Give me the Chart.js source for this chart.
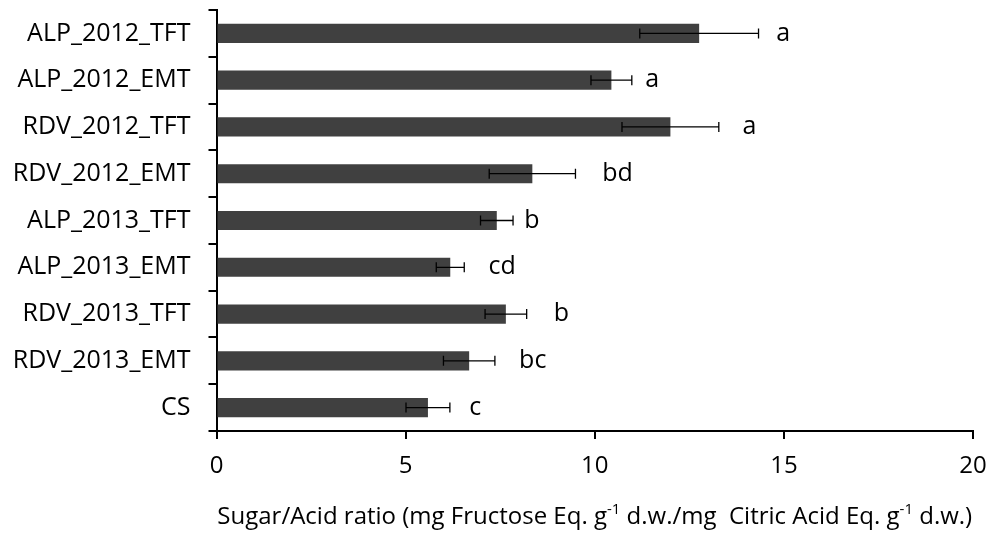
<!DOCTYPE html>
<html lang="en">
<head>
  <meta charset="UTF-8">
  <title>Sugar/Acid ratio</title>
  <script src="https://cdn.jsdelivr.net/npm/chart.js"></script>
  <style>
    html, body { margin: 0; padding: 0; background: #fff; }
    #wrap { width: 989px; height: 533px; }
  </style>
</head>
<body>
  <div id="wrap"><canvas id="ratioChart" width="989" height="533"></canvas></div>

  <script>
    // samples, top to bottom
    const categories = ['ALP_2012_TFT', 'ALP_2012_EMT', 'RDV_2012_TFT', 'RDV_2012_EMT',
      'ALP_2013_TFT', 'ALP_2013_EMT', 'RDV_2013_TFT', 'RDV_2013_EMT', 'CS'];
    const ratios = [12.76, 10.44, 12.0, 8.35, 7.41, 6.18, 7.65, 6.68, 5.59];
    const errors = [1.57, 0.54, 1.28, 1.14, 0.43, 0.37, 0.55, 0.68, 0.58];
    // significance letters and where they sit (in axis units)
    const letters = ['a', 'a', 'a', 'bd', 'b', 'cd', 'b', 'bc', 'c'];
    const letterX = [14.98, 11.52, 14.09, 10.6, 8.34, 7.55, 9.12, 8.36, 6.84];
    const xTicks = [0, 5, 10, 15, 20];

    const FONT = "'Open Sans', sans-serif";

    const errorBars = {
      id: 'errorBars',
      afterDatasetsDraw(chart) {
        const ctx = chart.ctx;
        const x = chart.scales.x, y = chart.scales.y;
        ctx.save();
        ctx.strokeStyle = '#000';
        ctx.lineWidth = 1.3;
        ratios.forEach((v, i) => {
          const cy = y.getPixelForValue(i);
          const x1 = x.getPixelForValue(v - errors[i]);
          const x2 = x.getPixelForValue(v + errors[i]);
          ctx.beginPath();
          ctx.moveTo(x1, cy); ctx.lineTo(x2, cy);
          ctx.moveTo(x1, cy - 5); ctx.lineTo(x1, cy + 5);
          ctx.moveTo(x2, cy - 5); ctx.lineTo(x2, cy + 5);
          ctx.stroke();
        });
        // letters
        ctx.fillStyle = '#000';
        ctx.font = '25px ' + FONT;
        ctx.textAlign = 'center';
        ctx.textBaseline = 'middle';
        letters.forEach((t, i) => {
          ctx.fillText(t, x.getPixelForValue(letterX[i]), y.getPixelForValue(i));
        });
        ctx.restore();
      }
    };

    // x axis title with superscripts
    const axisTitle = {
      id: 'axisTitle',
      afterDraw(chart) {
        const ctx = chart.ctx;
        const area = chart.chartArea;
        const parts = [
          ['Sugar/Acid ratio (mg Fructose Eq. g', false],
          ['-1', true],
          [' d.w./mg  Citric Acid Eq. g', false],
          ['-1', true],
          [' d.w.)', false]
        ];
        const big = '24px ' + FONT, small = '15px ' + FONT;
        ctx.save();
        let total = 0;
        parts.forEach(p => { ctx.font = p[1] ? small : big; total += ctx.measureText(p[0]).width; });
        let px = (area.left + area.right) / 2 - total / 2;
        const base = 524;
        ctx.fillStyle = '#000';
        ctx.textBaseline = 'alphabetic';
        ctx.textAlign = 'left';
        parts.forEach(p => {
          ctx.font = p[1] ? small : big;
          ctx.fillText(p[0], px, p[1] ? base - 10 : base);
          px += ctx.measureText(p[0]).width;
        });
        ctx.restore();
      }
    };

    const ctx = document.getElementById('ratioChart').getContext('2d');
    const chart = new Chart(ctx, {
      type: 'bar',
      data: {
        labels: categories,
        datasets: [{
          data: ratios,
          backgroundColor: '#404040',
          borderWidth: 0,
          categoryPercentage: 1,
          barPercentage: 0.41
        }]
      },
      options: {
        indexAxis: 'y',
        responsive: false,
        animation: false,
        layout: { padding: { top: 10, right: 16, left: 0, bottom: 0 } },
        plugins: { legend: { display: false }, tooltip: { enabled: false } },
        scales: {
          x: {
            min: 0, max: 20,
            afterBuildTicks: s => { s.ticks = xTicks.map(v => ({ value: v })); },
            afterFit: s => { s.height = 102; s.paddingLeft = 0; s.paddingRight = 0; },
            grid: { drawOnChartArea: false, drawTicks: true, tickLength: 8, color: '#000', lineWidth: 2 },
            border: { display: true, color: '#000', width: 2 },
            ticks: { color: '#000', font: { family: FONT, size: 24 }, padding: 13, maxRotation: 0 }
          },
          y: {
            afterFit: s => { s.width = 216.5; s.paddingTop = 0; s.paddingBottom = 0; },
            grid: { offset: true, drawOnChartArea: false, drawTicks: true, tickLength: 8, color: '#000', lineWidth: 2 },
            border: { display: true, color: '#000', width: 2 },
            ticks: { color: '#000', font: { family: FONT, size: 25 }, padding: 18 }
          }
        }
      },
      plugins: [errorBars, axisTitle]
    });
  </script>
</body>
</html>
